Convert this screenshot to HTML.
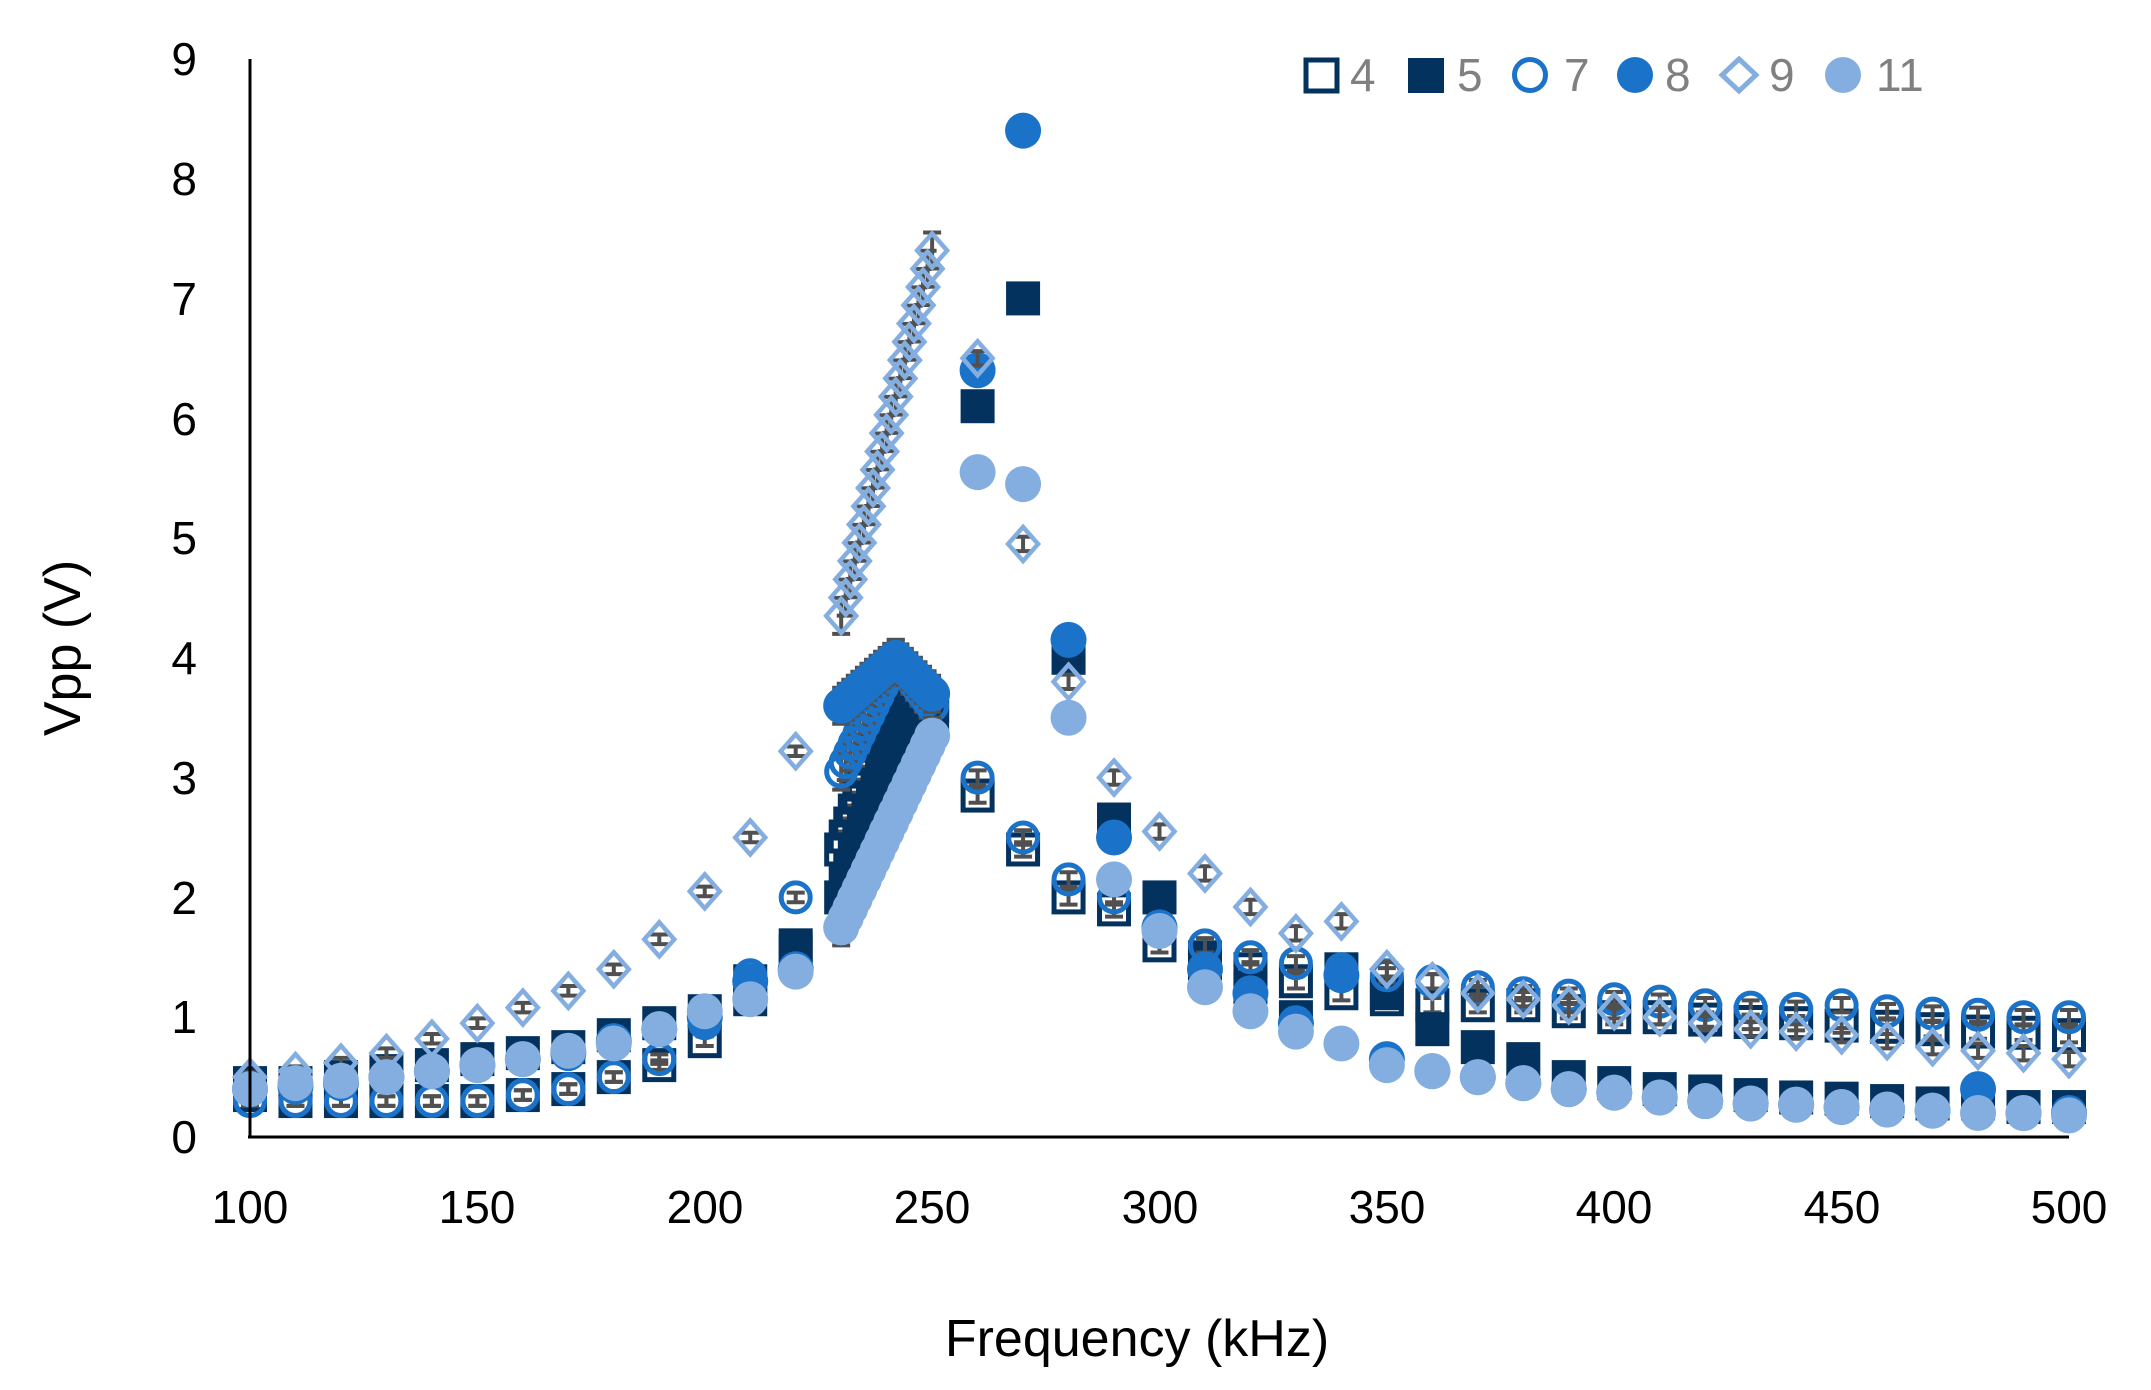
<!DOCTYPE html>
<html><head><meta charset="utf-8"><style>
html,body{margin:0;padding:0;background:#fff;}
svg{display:block;}
text{font-family:"Liberation Sans","DejaVu Sans",sans-serif;}
</style></head><body>
<svg id="s" width="2151" height="1390" viewBox="0 0 2151 1390" xmlns="http://www.w3.org/2000/svg">
<rect width="2151" height="1390" fill="#fff"/>
<g id="plot"></g>
<line x1="250" y1="59" x2="250" y2="1138" stroke="#000" stroke-width="3"/>
<line x1="248" y1="1137" x2="2069" y2="1137" stroke="#000" stroke-width="3"/>
<g font-size="46" fill="#000" text-anchor="end">
<text x="197" y="1153">0</text><text x="197" y="1033">1</text><text x="197" y="914">2</text>
<text x="197" y="794">3</text><text x="197" y="674">4</text><text x="197" y="554">5</text>
<text x="197" y="435">6</text><text x="197" y="315">7</text><text x="197" y="195">8</text><text x="197" y="75">9</text>
</g>
<g font-size="46" fill="#000" text-anchor="middle">
<text x="250" y="1223">100</text><text x="477" y="1223">150</text><text x="705" y="1223">200</text>
<text x="932" y="1223">250</text><text x="1160" y="1223">300</text><text x="1387" y="1223">350</text>
<text x="1614" y="1223">400</text><text x="1842" y="1223">450</text><text x="2069" y="1223">500</text>
</g>
<text x="1137" y="1356" font-size="52" text-anchor="middle">Frequency (kHz)</text>
<text transform="translate(80,648) rotate(-90)" font-size="52" text-anchor="middle">Vpp (V)</text>
<g font-size="46" fill="#808080">
<rect x="1306" y="60" width="31" height="31" fill="none" stroke="#03325f" stroke-width="5"/>
<text x="1350" y="91">4</text>
<rect x="1408" y="58" width="36" height="35" fill="#03325f"/>
<text x="1457" y="91">5</text>
<circle cx="1530" cy="75" r="15.5" fill="none" stroke="#1a73c8" stroke-width="5"/>
<text x="1564" y="91">7</text>
<circle cx="1635" cy="75" r="18" fill="#1a73c8"/>
<text x="1665" y="91">8</text>
<path d="M1739 59 L1756 75 L1739 91 L1722 75 Z" fill="none" stroke="#84aee0" stroke-width="5"/>
<text x="1769" y="91">9</text>
<circle cx="1843" cy="75" r="18" fill="#84aee0"/>
<text x="1876" y="91">11</text>
</g>
</svg>
<script>
(function(){
var X=function(f){return 250+(f-100)*4.5475;};
var Y=function(v){return 1137-119.8*v;};
function series(low,clusterA,clusterMid,clusterB,high){
 var p=[];var f;
 for(var i=0;i<low.length;i++)p.push([100+10*i,low[i],0.04]);
 for(f=230;f<=250;f++){var t=(f-230)/20;var v;
  if(clusterMid==null)v=clusterA+(clusterB-clusterA)*t;
  else v=t<0.6?clusterA+(clusterMid-clusterA)*(t/0.6):clusterMid+(clusterB-clusterMid)*((t-0.6)/0.4);
  p.push([f,v,0.15]);}
 for(var j=0;j<high.length;j++)p.push([260+10*j,high[j],0.06]);
 return p;}
var S=[
 {t:'os',c:'#03325f',d:series([0.35,0.3,0.3,0.3,0.3,0.3,0.35,0.4,0.5,0.6,0.8,1.15,1.55],2.4,3.7,3.5,
  [2.85,2.4,2.0,1.9,1.6,1.45,1.4,1.3,1.2,1.15,1.1,1.1,1.1,1.05,1.0,1.0,0.98,0.96,0.95,0.93,0.92,0.9,0.88,0.87,0.85])},
 {t:'fs',c:'#03325f',d:series([0.45,0.45,0.5,0.55,0.6,0.65,0.7,0.75,0.85,0.95,1.05,1.3,1.6],2.0,3.4,3.6,
  [6.1,7.0,4.0,2.65,2.0,1.5,1.25,1.0,1.4,1.2,0.9,0.75,0.65,0.5,0.45,0.4,0.38,0.35,0.33,0.32,0.3,0.28,0.28,0.25,0.25])},
 {t:'oc',c:'#1a73c8',d:series([0.3,0.3,0.3,0.3,0.3,0.3,0.35,0.4,0.5,0.65,0.95,1.35,2.0],3.05,4.0,3.6,
  [3.0,2.5,2.15,2.0,1.75,1.6,1.5,1.45,1.4,1.35,1.3,1.25,1.2,1.18,1.15,1.13,1.1,1.08,1.07,1.1,1.05,1.03,1.02,1.0,1.0])},
 {t:'fc',c:'#1a73c8',d:series([0.4,0.42,0.45,0.5,0.55,0.6,0.65,0.7,0.8,0.9,1.0,1.3,1.4],3.6,4.0,3.7,
  [6.4,8.4,4.15,2.5,1.75,1.4,1.2,0.95,1.35,0.65,0.55,0.5,0.45,0.4,0.37,0.33,0.3,0.28,0.27,0.25,0.23,0.22,0.4,0.2,0.2])},
 {t:'dm',c:'#84aee0',d:series([0.5,0.55,0.62,0.7,0.82,0.95,1.08,1.22,1.4,1.65,2.05,2.5,3.22],4.35,null,7.4,
  [6.5,4.95,3.8,3.0,2.55,2.2,1.92,1.7,1.8,1.4,1.3,1.2,1.15,1.1,1.05,1.0,0.95,0.9,0.88,0.85,0.8,0.75,0.72,0.7,0.65])},
 {t:'fc',c:'#84aee0',d:series([0.4,0.45,0.47,0.5,0.55,0.6,0.65,0.72,0.78,0.9,1.05,1.15,1.38],1.75,null,3.35,
  [5.55,5.45,3.5,2.15,1.72,1.25,1.05,0.88,0.78,0.6,0.55,0.5,0.45,0.4,0.37,0.33,0.3,0.28,0.27,0.25,0.23,0.22,0.2,0.2,0.18])}
];
var h='';
S.forEach(function(s){
 s.d.forEach(function(p){var x=X(p[0]),y=Y(p[1]),e=p[2]*119.8;
  h+='<line x1="'+x+'" y1="'+(y-e)+'" x2="'+x+'" y2="'+(y+e)+'" stroke="#505050" stroke-width="4"/>';
  h+='<line x1="'+(x-9)+'" y1="'+(y-e)+'" x2="'+(x+9)+'" y2="'+(y-e)+'" stroke="#505050" stroke-width="4"/>';
  h+='<line x1="'+(x-9)+'" y1="'+(y+e)+'" x2="'+(x+9)+'" y2="'+(y+e)+'" stroke="#505050" stroke-width="4"/>';
 });
 s.d.forEach(function(p){var x=X(p[0]),y=Y(p[1]);
  if(s.t=='os')h+='<rect x="'+(x-14.5)+'" y="'+(y-14.5)+'" width="29" height="29" fill="none" stroke="'+s.c+'" stroke-width="5"/>';
  else if(s.t=='fs')h+='<rect x="'+(x-17)+'" y="'+(y-17)+'" width="34" height="34" fill="'+s.c+'"/>';
  else if(s.t=='oc')h+='<circle cx="'+x+'" cy="'+y+'" r="14.5" fill="none" stroke="'+s.c+'" stroke-width="5"/>';
  else if(s.t=='fc')h+='<circle cx="'+x+'" cy="'+y+'" r="18" fill="'+s.c+'"/>';
  else h+='<path d="M'+x+' '+(y-17)+' L'+(x+15)+' '+y+' L'+x+' '+(y+17)+' L'+(x-15)+' '+y+' Z" fill="none" stroke="'+s.c+'" stroke-width="4.5"/>';
 });
});
document.getElementById('plot').innerHTML=h;
})();
</script>
</body></html>
